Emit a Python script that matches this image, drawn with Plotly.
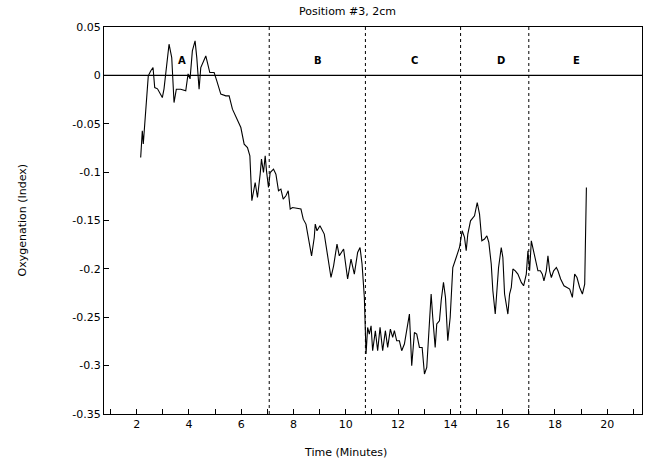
import plotly.graph_objects as go

# Oxygenation index trace, position #3 (2 cm), time in minutes
time_min = [
    2.153, 2.215, 2.253, 2.337, 2.444, 2.536, 2.625, 2.690, 2.797, 2.981,
    3.046, 3.238, 3.341, 3.429, 3.517, 3.686, 3.877, 3.966, 4.042, 4.130,
    4.234, 4.299, 4.387, 4.452, 4.644, 4.797, 4.962, 5.065, 5.218, 5.410,
    5.536, 5.663, 5.854, 5.985, 6.111, 6.238, 6.330, 6.406, 6.533, 6.621,
    6.724, 6.774, 6.851, 6.916, 6.966, 7.042, 7.107, 7.234, 7.326, 7.425,
    7.517, 7.605, 7.709, 7.797, 7.874, 7.962, 8.284, 8.372, 8.475, 8.563,
    8.690, 8.793, 8.831, 8.897, 9.011, 9.176, 9.303, 9.433, 9.533, 9.663,
    9.751, 9.916, 10.069, 10.199, 10.326, 10.452, 10.544, 10.621, 10.709, 10.774,
    10.835, 10.900, 10.966, 11.027, 11.130, 11.218, 11.310, 11.410, 11.513, 11.602,
    11.705, 11.793, 11.858, 11.946, 12.050, 12.138, 12.241, 12.330, 12.433, 12.521,
    12.625, 12.713, 12.816, 12.920, 13.008, 13.096, 13.199, 13.264, 13.326, 13.418,
    13.479, 13.582, 13.648, 13.736, 13.812, 13.900, 13.992, 14.092, 14.222, 14.349,
    14.452, 14.540, 14.605, 14.667, 14.770, 14.923, 15.027, 15.115, 15.203, 15.307,
    15.395, 15.471, 15.563, 15.625, 15.716, 15.778, 15.843, 15.946, 16.008, 16.073,
    16.199, 16.264, 16.330, 16.391, 16.483, 16.582, 16.713, 16.801, 16.904, 16.966,
    17.031, 17.096, 17.157, 17.261, 17.349, 17.441, 17.517, 17.579, 17.670, 17.732,
    17.797, 17.862, 17.950, 18.054, 18.115, 18.218, 18.345, 18.460, 18.563, 18.667,
    18.755, 18.843, 18.946, 19.050, 19.138, 19.203,
]
oxygenation = [
    -0.0849, -0.0573, -0.0708, -0.0367, -0.0005, 0.0046, 0.0081, -0.0126, -0.0139, -0.0229,
    -0.0139, 0.0322, 0.0184, -0.0281, -0.0143, -0.0143, -0.0160, 0.0015, -0.0036, 0.0253,
    0.0356, 0.0184, -0.0143, 0.0081, 0.0201, 0.0029, 0.0029, -0.0057, -0.0194, -0.0212,
    -0.0212, -0.0349, -0.0470, -0.0539, -0.0711, -0.0746, -0.0832, -0.1296, -0.1107, -0.1262,
    -0.1021, -0.0866, -0.1004, -0.0832, -0.0987, -0.1159, -0.1004, -0.0969, -0.1021, -0.1193,
    -0.1176, -0.1279, -0.1245, -0.1193, -0.1382, -0.1366, -0.1382, -0.1486, -0.1537, -0.1676,
    -0.1865, -0.1676, -0.1537, -0.1606, -0.1555, -0.1640, -0.1882, -0.2089, -0.1968, -0.1744,
    -0.1865, -0.1795, -0.2105, -0.1899, -0.2054, -0.1831, -0.1779, -0.1950, -0.2295, -0.2880,
    -0.2605, -0.2674, -0.2588, -0.2846, -0.2639, -0.2846, -0.2605, -0.2846, -0.2639, -0.2812,
    -0.2622, -0.2709, -0.2639, -0.2743, -0.2743, -0.2846, -0.2777, -0.2639, -0.2467, -0.3001,
    -0.2657, -0.2674, -0.2812, -0.2812, -0.3087, -0.3019, -0.2570, -0.2260, -0.2502, -0.2812,
    -0.2570, -0.2536, -0.2330, -0.2140, -0.2295, -0.2743, -0.2502, -0.1986, -0.1882, -0.1779,
    -0.1606, -0.1674, -0.1813, -0.1640, -0.1503, -0.1451, -0.1314, -0.1434, -0.1710, -0.1692,
    -0.1658, -0.1727, -0.1950, -0.2226, -0.2467, -0.2260, -0.1986, -0.1779, -0.1882, -0.2260,
    -0.2467, -0.2260, -0.2192, -0.2002, -0.2020, -0.2054, -0.2140, -0.2175, -0.2054, -0.1813,
    -0.2020, -0.1710, -0.1779, -0.1916, -0.2020, -0.2020, -0.2054, -0.2123, -0.2020, -0.1865,
    -0.2020, -0.2089, -0.2020, -0.1986, -0.2020, -0.2105, -0.2175, -0.2192, -0.2209, -0.2295,
    -0.2054, -0.2089, -0.2192, -0.2260, -0.2157, -0.1159,
]

# Phase boundaries (minutes) and phase labels
phase_bounds = [7.07, 10.75, 14.39, 17.0]
phase_names = ["A", "B", "C", "D", "E"]
phase_label_x = [3.74, 8.92, 12.62, 15.92, 18.83]
phase_label_y = 0.015

x_tick_vals = [2, 4, 6, 8, 10, 12, 14, 16, 18, 20]
y_tick_vals = [0.05, 0, -0.05, -0.1, -0.15, -0.2, -0.25, -0.3, -0.35]
y_tick_text = ["0.05", "0", "-0.05", "-0.1", "-0.15", "-0.2", "-0.25", "-0.3", "-0.35"]

FONT = "DejaVu Sans, sans-serif"
BOLD = "DejaVu Sans Bold, DejaVu Sans, sans-serif"

fig = go.Figure()
fig.add_trace(go.Scatter(
    x=time_min, y=oxygenation, mode="lines",
    line=dict(color="black", width=1.1), showlegend=False, hoverinfo="skip",
))

shapes = [dict(type="line", xref="paper", yref="y", x0=0, x1=1, y0=0, y1=0,
               line=dict(color="black", width=1.3))]
for b in phase_bounds:
    shapes.append(dict(type="line", xref="x", yref="paper", x0=b, x1=b, y0=0, y1=1,
                       line=dict(color="black", width=1, dash="dot")))

annotations = [
    dict(x=px, y=phase_label_y, xref="x", yref="y", text="<b>%s</b>" % name,
         showarrow=False, font=dict(family=FONT, size=10, color="black"))
    for px, name in zip(phase_label_x, phase_names)
]
# Title and axis titles
annotations += [
    dict(x=0.4535, y=1.0388, xref="paper", yref="paper", text="Positiom #3, 2cm",
         showarrow=False, xanchor="center", yanchor="middle",
         font=dict(family=FONT, size=11, color="black")),
    dict(x=0.448, y=-0.0982, xref="paper", yref="paper", text="Time (Minutes)",
         showarrow=False, xanchor="center", yanchor="middle",
         font=dict(family=FONT, size=11, color="black")),
    dict(x=-0.1524, y=0.5, xref="paper", yref="paper", text="Oxygenation (Index)",
         showarrow=False, xanchor="center", yanchor="middle", textangle=-90,
         font=dict(family=FONT, size=11, color="black")),
]

fig.update_layout(
    width=653, height=462,
    margin=dict(l=104, r=11, t=27, b=48),
    paper_bgcolor="white", plot_bgcolor="white",
    font=dict(family=FONT, size=11, color="black"),
    shapes=shapes, annotations=annotations,
    xaxis=dict(
        range=[0.75, 21.33], tickvals=x_tick_vals, ticks="inside", ticklen=5,
        tickcolor="black", showgrid=False, zeroline=False,
        showline=True, linecolor="black", linewidth=1, mirror=True,
        minor=dict(dtick=1, tick0=0, ticks="inside", ticklen=5, tickcolor="black", showgrid=False),
        tickfont=dict(family=FONT, size=11),
    ),
    yaxis=dict(
        range=[-0.35, 0.05], tickvals=y_tick_vals, ticktext=y_tick_text,
        ticks="inside", ticklen=5, tickcolor="black", showgrid=False, zeroline=False,
        showline=True, linecolor="black", linewidth=1, mirror=True,
        tickfont=dict(family=FONT, size=11),
    ),
)

fig.write_html("out.html")
